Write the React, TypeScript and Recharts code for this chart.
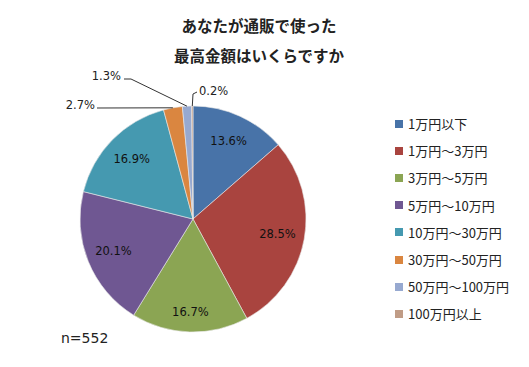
import React from 'react';
import { PieChart, Pie, Cell, Legend } from 'recharts';

const categories = [
  '1万円以下',
  '1万円～3万円',
  '3万円～5万円',
  '5万円～10万円',
  '10万円～30万円',
  '30万円～50万円',
  '50万円～100万円',
  '100万円以上',
];

const shares = [13.6, 28.5, 16.7, 20.1, 16.9, 2.7, 1.3, 0.2];

const titleLines = ['あなたが通販で使った', '最高金額はいくらですか'];
const sampleNote = 'n=552';

const COLORS = [
  '#4873a8',
  '#a9443f',
  '#8ba553',
  '#6f5792',
  '#4599b0',
  '#da8640',
  '#97a9d0',
  '#c09c86',
];

const data = categories.map((name, i) => ({ name, value: shares[i] }));

const RAD = Math.PI / 180;
const NUM_FONT = '"DejaVu Sans", Verdana, sans-serif';
const JP_FONT = '"Noto Sans CJK JP", "Noto Sans", sans-serif';

// 小さいスライスは外側にラベル＋引き出し線（エルボーの位置だけ指定）
const outside: Record<number, { ex: number; ey: number; tx: number; ty: number; anchor: 'start' | 'end' }> = {
  5: { ex: 97, ey: 108, tx: 95, ty: 105, anchor: 'end' },
  6: { ex: 131, ey: 79, tx: 121, ty: 76, anchor: 'end' },
  7: { ex: 193, ey: 94, tx: 199, ty: 91, anchor: 'start' },
};

const renderLabel = (props: any) => {
  const { cx, cy, midAngle, outerRadius, index, value } = props;
  if (!value) return null;
  const text = `${Number(value).toFixed(1)}%`;
  const o = outside[index];
  if (o) {
    const sx = cx + outerRadius * Math.cos(-midAngle * RAD);
    const sy = cy + outerRadius * Math.sin(-midAngle * RAD);
    let pts = '';
    if (index === 5) pts = `${sx},${sy} ${o.ex},${o.ey}`;
    else if (index === 6) pts = `${sx},${sy} ${o.ex},${o.ey} ${o.tx + 3},${o.ey}`;
    else pts = `${sx},${sy} ${o.ex},${o.ey} ${o.ex + 4},${o.ey - 2}`;
    return (
      <g>
        <polyline points={pts} fill="none" stroke="#333" strokeWidth={1} />
        <text x={o.tx} y={o.ty} textAnchor={o.anchor} dominantBaseline="central" fontSize={11.5} fill="#222" fontFamily={NUM_FONT}>
          {text}
        </text>
      </g>
    );
  }
  const r = outerRadius * (index === 2 ? 0.82 : 0.76);
  const x = cx + r * Math.cos(-midAngle * RAD);
  const y = cy + r * Math.sin(-midAngle * RAD);
  return (
    <text x={x} y={y} textAnchor="middle" dominantBaseline="central" fontSize={11.5} fill="#111" fontFamily={NUM_FONT}>
      {text}
    </text>
  );
};

const renderLegend = () => (
  <div style={{ fontFamily: JP_FONT, fontSize: 13, color: '#222' }}>
    {categories.map((c, i) => (
      <div key={c} style={{ display: 'flex', alignItems: 'center', height: 27.2 }}>
        <span style={{ display: 'inline-block', width: 8, height: 8, background: COLORS[i], marginRight: 5 }} />
        <span>{c}</span>
      </div>
    ))}
  </div>
);

export default function App() {
  return (
    <div style={{ position: 'absolute', left: 0, top: 0, width: 529, height: 367, background: '#fff' }}>
      {titleLines.map((t, i) => (
        <div
          key={t}
          style={{
            position: 'absolute',
            left: 0,
            width: 518,
            top: 14 + i * 30,
            textAlign: 'center',
            fontFamily: JP_FONT,
            fontWeight: 'bold',
            fontSize: 15.5,
            lineHeight: '22px',
            color: '#222',
          }}
        >
          {t}
        </div>
      ))}
      <PieChart width={529} height={367} margin={{ top: 0, right: 0, bottom: 0, left: 0 }} style={{ position: 'absolute', left: 0, top: 0 }}>
        <Pie
          data={data}
          dataKey="value"
          nameKey="name"
          cx={193}
          cy={219}
          outerRadius={113}
          startAngle={90}
          endAngle={-270}
          stroke="#e8e8e8"
          strokeWidth={0.6}
          labelLine={false}
          label={renderLabel}
          isAnimationActive={false}
        >
          {data.map((d, i) => (
            <Cell key={d.name} fill={COLORS[i]} />
          ))}
        </Pie>
        <Legend
          layout="vertical"
          align="right"
          verticalAlign="top"
          content={renderLegend}
          wrapperStyle={{ left: 395, top: 110, width: 134 }}
        />
      </PieChart>
      <div style={{ position: 'absolute', left: 61, top: 330, fontFamily: NUM_FONT, fontSize: 14, color: '#222' }}>
        {sampleNote}
      </div>
    </div>
  );
}
